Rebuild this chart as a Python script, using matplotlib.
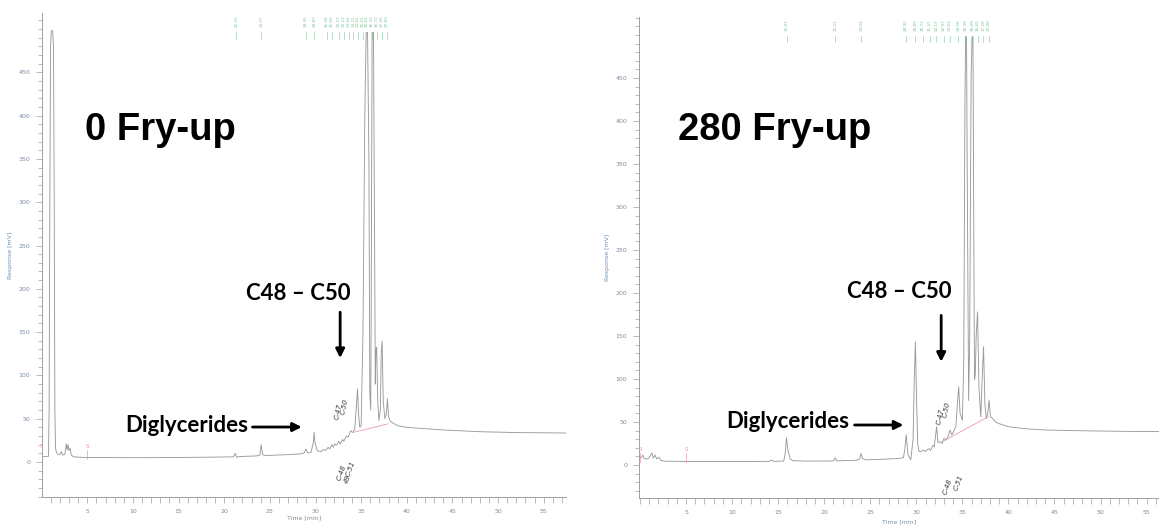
import numpy as np
import matplotlib.pyplot as plt
from matplotlib.ticker import MultipleLocator

# chromatogram traces: (time [min], response [mV]) vertices
fresh_time = [0.04, 0.75, 0.82, 0.9, 0.98, 1.05, 1.2, 1.3, 1.38, 1.45, 1.52, 1.62, 1.8,
              2.0, 2.15, 2.3, 2.55, 2.7, 2.8, 2.9, 3.0, 3.12, 3.25, 3.5, 4.5, 10, 15,
              20, 21.0, 21.2, 21.35, 21.6, 23.5, 23.9, 24.05, 24.2, 24.5, 27, 28.5,
              28.8, 28.95, 29.15, 29.5, 29.75, 29.85, 29.95, 30.2, 30.6, 30.9, 31.1,
              31.4, 31.55, 31.8, 31.95, 32.1, 32.3, 32.55, 32.7, 32.95, 33.1, 33.4,
              33.6, 33.85, 34.1, 34.3, 34.45, 34.6, 34.72, 34.85, 35.0, 35.2, 35.4,
              35.55, 35.7, 35.85, 35.95, 36.05, 36.1, 36.2, 36.35, 36.45, 36.55,
              36.62, 36.7, 36.82, 36.95, 37.1, 37.2, 37.3, 37.42, 37.6, 37.75, 37.88,
              38.0, 38.2, 38.5, 39.0, 40, 42, 44, 48, 52, 57.44]
fresh_resp = [6, 6.5, 60, 300, 480, 498, 498, 480, 300, 60, 16, 11, 9,
              8.5, 12, 8, 9, 21, 14, 20, 13, 16, 8, 6, 5.3, 5, 5.2,
              5.8, 6, 10, 5.5, 6.3, 7, 8, 20, 8.5, 7.5, 8.5, 9.5,
              11, 15, 10.5, 11, 22, 34.5, 22, 13, 12, 14.5, 13.5,
              17, 15, 20, 17, 21, 19.5, 24, 20.5, 26, 24, 30,
              29, 36, 34, 38, 60, 84.5, 55, 40, 42, 150, 400,
              496, 496, 350, 80, 60, 180, 496, 496, 300, 90,
              130, 132.5, 70, 48, 60, 125, 139.5, 70, 50, 55, 73,
              52, 47, 45, 42, 40, 38.5, 37, 35, 34, 33.5]

fried_time = [-0.11, 0.15, 0.3, 0.45, 0.7, 0.9, 1.3, 1.45, 1.65, 1.8, 2.05, 2.25, 2.6,
              5, 10, 14.0, 14.3, 14.5, 15.6, 15.75, 15.9, 16.05, 16.3, 16.6, 18,
              21.0, 21.2, 21.35, 23.5, 23.85, 24.0, 24.15, 24.5, 26, 28.0, 28.6,
              28.75, 28.9, 29.1, 29.4, 29.65, 29.78, 29.9, 30.02, 30.15, 30.3, 30.55,
              30.8, 31.0, 31.2, 31.4, 31.55, 31.8, 31.95, 32.2, 32.35, 32.6, 32.8,
              33.0, 33.2, 33.45, 33.65, 33.85, 34.05, 34.3, 34.45, 34.6, 34.75, 35.0,
              35.15, 35.28, 35.35, 35.45, 35.55, 35.68, 35.8, 35.95, 36.05, 36.15,
              36.25, 36.32, 36.4, 36.5, 36.65, 36.8, 37.0, 37.15, 37.3, 37.45, 37.6,
              37.75, 37.9, 38.05, 38.3, 38.6, 39.0, 40, 42, 44, 48, 52, 56.4]
fried_resp = [8, 8.5, 11.5, 7.5, 7, 7.5, 14, 8, 11.5, 7, 9, 5.5, 4.5,
              4, 4, 4.2, 5.8, 4.3, 4.5, 12, 31.5, 18, 7, 5, 4.5,
              4.7, 8.5, 4.8, 5.5, 7, 13.5, 7.5, 6, 6.5, 7.5, 8.5,
              18, 35, 12, 6, 30, 100, 143, 80, 25, 15.5, 16,
              17.5, 15.5, 18, 19, 17, 23, 21, 44.5, 26, 27, 25,
              31, 29, 33, 40.5, 35, 38.8, 45, 70, 91, 60, 52,
              120, 420, 498, 498, 300, 75, 150, 450, 498, 498,
              250, 99, 105, 150, 178, 90, 56, 100, 137.5, 70, 54,
              60, 75.5, 56, 54, 50, 48, 44.5, 42, 40.7, 39.8, 39.2, 38.8]

# integration baselines (pink)
fresh_base_time = [34.3, 37.9]
fresh_base_resp = [34.6, 44]
fried_base_time = [32.8, 37.8]
fried_base_resp = [27, 56]

# retention times printed above the peaks
fresh_rt = [21.33, 24.07, 28.95, 29.87, 31.28, 31.80, 32.57, 33.10, 33.62, 34.15,
            34.65, 35.15, 35.65, 36.20, 36.72, 37.25, 37.80]
fried_rt = [15.91, 21.21, 24.02, 28.90, 29.89, 30.72, 31.51, 32.19, 32.97, 33.63,
            34.58, 35.39, 36.09, 36.65, 37.28, 37.88]

# integration event markers
event_times = [0.0, 5.0]

TRACE = '#9a9a9a'
AXIS = '#a0a0a0'
TICKTXT = '#7f8fa3'
GREEN = '#7fc39c'
PINK = '#e79ab0'


def draw_panel(fig, rect, xlim, ylim, time, resp, base_t, base_r, rts, title,
               title_xy, c48_xy, arrow_down, digly_xy, arrow_right, scribbles, xpad):

    ax = fig.add_axes(rect)
    ax.set_xlim(*xlim)
    ax.set_ylim(*ylim)

    ax.plot(time, resp, color=TRACE, lw=0.65, solid_joinstyle='round')
    ax.plot(base_t, base_r, color=PINK, lw=0.6)

    for t in event_times:
        ax.plot([t, t], [4, 14], color=PINK, lw=0.5, clip_on=False)
        ax.text(t, 15, 'S', color=PINK, fontsize=4, ha='center', va='bottom', clip_on=False)

    for rt in rts:
        ax.text(rt, 0.995, '%.2f' % rt, transform=ax.get_xaxis_transform(),
                rotation=90, fontsize=3, color=GREEN, ha='center', va='top')
        ax.plot([rt, rt], [0.947, 0.96], transform=ax.get_xaxis_transform(),
                color=GREEN, lw=0.4)

    for spine in ['top', 'right']:
        ax.spines[spine].set_visible(False)
    for spine in ['left', 'bottom']:
        ax.spines[spine].set_color(AXIS)
        ax.spines[spine].set_linewidth(0.7)

    ax.xaxis.set_minor_locator(MultipleLocator(1))
    ax.yaxis.set_minor_locator(MultipleLocator(10))
    ax.set_yticks([v for v in range(0, 451, 50)])
    ax.set_xticks([v for v in range(5, 60, 5)])
    ax.tick_params(which='major', length=4.5, width=0.5, color=AXIS,
                   labelsize=4.5, labelcolor=TICKTXT, pad=4)
    ax.tick_params(which='minor', length=4.5, width=0.5, color=AXIS)
    ax.tick_params(axis='y', which='minor', length=3.2)

    ax.set_ylabel('Response [mV]', fontsize=4.5, color='#6f8fb5', labelpad=4)
    ax.set_xlabel('Time [min]', fontsize=4.5, color=TICKTXT, labelpad=xpad)

    ax.text(title_xy[0], title_xy[1], title, fontsize=27.5, fontweight='bold',
            family='Liberation Sans', ha='left', va='baseline')

    ax.text(c48_xy[0], c48_xy[1], 'C48 \u2013 C50', fontsize=16, fontweight='bold',
            family='Lato', ha='center', va='baseline')
    ax.annotate('', xy=arrow_down[1], xytext=arrow_down[0],
                arrowprops=dict(arrowstyle='-|>', lw=2, color='black',
                                mutation_scale=13, shrinkA=0, shrinkB=0))

    ax.text(digly_xy[0], digly_xy[1], 'Diglycerides', fontsize=16, fontweight='bold',
            family='Lato', ha='right', va='baseline')
    ax.annotate('', xy=arrow_right[1], xytext=arrow_right[0],
                arrowprops=dict(arrowstyle='-|>', lw=2, color='black',
                                mutation_scale=13, shrinkA=0, shrinkB=0))

    # pencil notes on the printout
    for txt, x, y, rot in scribbles:
        ax.text(x, y, txt, fontsize=5, color='#3a3a3a', style='italic',
                rotation=rot, ha='center', va='center', clip_on=False)

    return ax


def run():

    fig = plt.figure(figsize=(11.59, 5.25), dpi=100)

    draw_panel(fig, [42 / 1159, 28 / 525, 524 / 1159, 484 / 525],
               (0.04, 57.44), (-40.4, 518.5),
               fresh_time, fresh_resp, fresh_base_time, fresh_base_resp, fresh_rt,
               '0 Fry-up', (4.75, 372), (28.1, 187),
               ((32.7, 173), (32.7, 120)), (22.6, 35), ((23.1, 40.4), (28.5, 40.4)),
               [('C-47', 32.55, 58, 78), ('C-50', 33.2, 64, 78),
                ('C-48', 32.9, -12, 70), ('C-51', 33.8, -8, 70), ('49', 33.5, -20, 70)],
               1)

    draw_panel(fig, [639 / 1159, 27 / 525, 520 / 1159, 481 / 525],
               (-0.11, 56.35), (-38.4, 521),
               fried_time, fried_resp, fried_base_time, fried_base_resp, fried_rt,
               '280 Fry-up', (4.13, 378), (28.1, 194),
               ((32.7, 174), (32.7, 120)), (22.7, 43), ((23.3, 46.5), (28.6, 46.5)),
               [('C-47', 32.6, 56, 78), ('C-50', 33.3, 64, 78),
                ('C-48', 33.4, -25, 70), ('C-51', 34.6, -20, 70)],
               3)

    fig.savefig('out.png', dpi=100)


if __name__ == "__main__":

    run()
